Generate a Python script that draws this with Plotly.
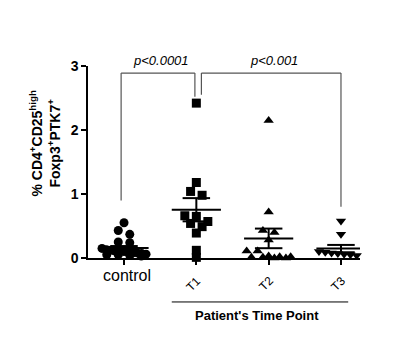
import numpy as np
import plotly.graph_objects as go

categories = ["control", "T1", "T2", "T3"]
control = [0.55, 0.43, 0.37, 0.25, 0.24, 0.15, 0.13, 0.12, 0.11, 0.10, 0.10, 0.09,
           0.08, 0.08, 0.07, 0.06, 0.05, 0.05, 0.04, 0.03]
t1 = [2.42, 1.18, 1.04, 0.98, 0.66, 0.65, 0.57, 0.54, 0.49, 0.39, 0.12, 0.01]
t2 = [2.15, 0.72, 0.43, 0.40, 0.28, 0.11, 0.11, 0.03, 0.02, 0.02, 0.01, 0.01, 0.0, 0.0]
t3 = [0.58, 0.37, 0.10, 0.09, 0.08, 0.07, 0.06, 0.05, 0.04, 0.03]
series = [control, t1, t2, t3]
symbols = ["circle", "square", "triangle-up", "triangle-down"]
p_labels = ["<i>p<0.0001</i>", "<i>p<0.001</i>"]
y_ticks = [0, 1, 2, 3]

PX_X, PX_Y = 72.3, 64.0
GROUP_PX, MAX_SP, MAX_W = 6.0, 11.5, 44.0


def scatter_offsets(vals):
    """GraphPad-like column scatter: points close in value are placed side by side."""
    order = list(np.argsort(-vals, kind="stable"))
    offs = np.zeros(len(vals))
    groups = []
    for i in order:
        if groups and (vals[groups[-1][0]] - vals[i]) * PX_Y < GROUP_PX:
            groups[-1].append(i)
        else:
            groups.append([i])
    for g in groups:
        n = len(g)
        sp = MAX_SP if n < 2 else min(MAX_SP, MAX_W / (n - 1))
        for j, i in enumerate(g):
            offs[i] = (j - (n - 1) / 2) * sp / PX_X
    return offs


fig = go.Figure()
shapes = []
for ci, (vals, sym) in enumerate(zip(series, symbols)):
    v = np.array(vals, dtype=float)
    offs = scatter_offsets(v)
    fig.add_trace(go.Scatter(x=ci + offs, y=v, mode="markers",
                             marker=dict(symbol=sym, size=9, color="black", line=dict(width=0)),
                             showlegend=False, hoverinfo="skip", cliponaxis=False))
    m = v.mean()
    sem = v.std(ddof=1) / np.sqrt(len(v))
    ln = dict(color="black", width=2)
    shapes.append(dict(type="line", xref="x", yref="y", x0=ci - 0.34, x1=ci + 0.34, y0=m, y1=m, line=ln))
    shapes.append(dict(type="line", xref="x", yref="y", x0=ci - 0.19, x1=ci + 0.19, y0=m + sem, y1=m + sem, line=ln))
    shapes.append(dict(type="line", xref="x", yref="y", x0=ci - 0.19, x1=ci + 0.19, y0=m - sem, y1=m - sem, line=ln))
    shapes.append(dict(type="line", xref="x", yref="y", x0=ci, x1=ci, y0=m - sem, y1=m + sem, line=ln))

# significance brackets
bl = dict(color="#555555", width=1.2)
top = 2.89
for (xa, ya, xb, yb), lab in zip([(-0.04, 0.9, 0.98, 2.52), (1.07, 2.55, 3.0, 0.8)], p_labels):
    shapes.append(dict(type="line", xref="x", yref="y", x0=xa, x1=xa, y0=ya, y1=top, line=bl))
    shapes.append(dict(type="line", xref="x", yref="y", x0=xa, x1=xb, y0=top, y1=top, line=bl))
    shapes.append(dict(type="line", xref="x", yref="y", x0=xb, x1=xb, y0=top, y1=yb, line=bl))
    fig.add_annotation(x=(xa + xb) / 2, y=top, xref="x", yref="y", text=lab, showarrow=False,
                       yanchor="bottom", yshift=3, xshift=3, font=dict(size=13, color="black"))

# group line under time points
shapes.append(dict(type="line", xref="x", yref="paper", x0=0.66, x1=3.10, y0=-0.229, y1=-0.229,
                   line=dict(color="black", width=1)))
fig.add_annotation(x=1.84, y=-0.349, xref="x", yref="paper", text="<b>Patient's Time Point</b>",
                   showarrow=False, font=dict(size=13, color="black"))

# category labels
fig.add_annotation(x=0, y=0, xref="x", yref="y", text=categories[0], showarrow=False,
                   yanchor="top", xshift=3, yshift=-7, font=dict(size=16, color="black"))
for ci in range(1, 4):
    fig.add_annotation(x=ci, y=0, xref="x", yref="y", text=categories[ci], showarrow=False,
                       textangle=-45, xanchor="center", yanchor="top", xshift=-3, yshift=-13,
                       font=dict(size=12, color="black"))

fig.add_annotation(x=-0.159, y=0.60, xref="paper", yref="paper", xanchor="center", yanchor="middle",
                   text="<b>% CD4<sup>+</sup>CD25<sup>high</sup><br>Foxp3<sup>+</sup>PTK7<sup>+</sup></b>",
                   showarrow=False, textangle=-90, font=dict(size=14, color="black"))

fig.update_layout(
    width=409, height=349,
    margin=dict(l=80, r=57, t=58, b=99),
    paper_bgcolor="white", plot_bgcolor="white",
    font=dict(family="Liberation Sans, Arial, sans-serif", color="black"),
    shapes=shapes,
    xaxis=dict(range=[-0.498, 3.263], showgrid=False, zeroline=False, showline=True,
               linecolor="black", linewidth=1.5, tickmode="array", tickvals=[0, 1, 2, 3],
               ticktext=["", "", "", ""], ticks="outside", ticklen=5, tickwidth=1.5,
               tickcolor="black", fixedrange=True),
    yaxis=dict(range=[0, 3], showgrid=False, zeroline=False, showline=True,
               linecolor="black", linewidth=1.5, tickmode="array", tickvals=y_ticks,
               ticks="outside", ticklen=5, tickwidth=1.5, tickcolor="black",
               tickfont=dict(size=14, weight="bold"), fixedrange=True),
)

fig.write_html("out.html")
